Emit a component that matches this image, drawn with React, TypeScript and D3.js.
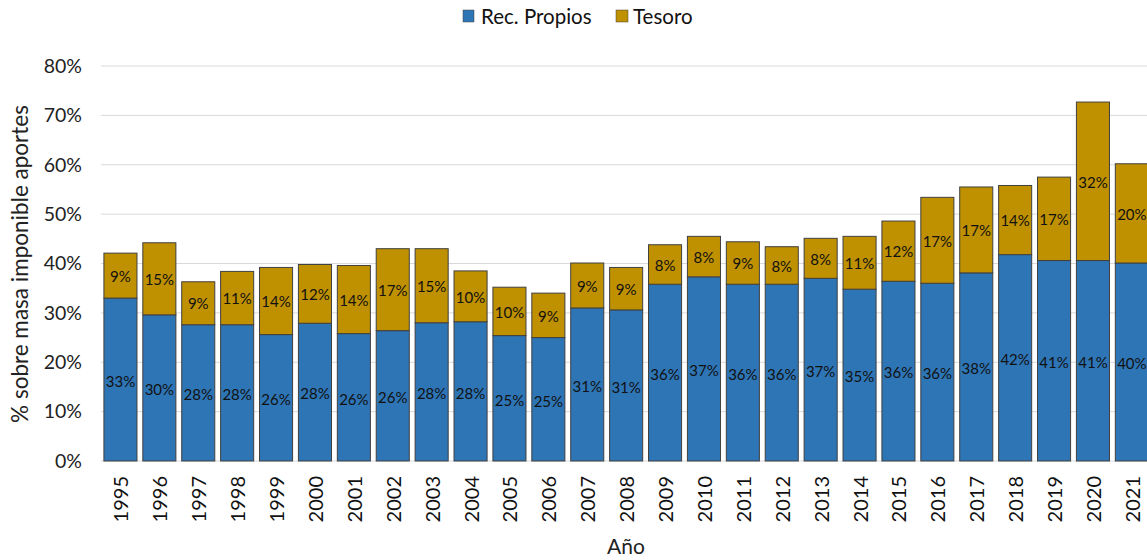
import React from "react";
import * as d3 from "d3";

const years = ["1995","1996","1997","1998","1999","2000","2001","2002","2003","2004","2005","2006","2007","2008","2009","2010","2011","2012","2013","2014","2015","2016","2017","2018","2019","2020","2021"];
const recPropios = [33.0,29.6,27.6,27.6,25.6,27.9,25.8,26.4,28.0,28.2,25.4,25.0,31.0,30.6,35.8,37.3,35.8,35.8,37.0,34.8,36.4,36.0,38.1,41.8,40.6,40.6,40.1];
const tesoro = [9.1,14.6,8.7,10.8,13.6,11.9,13.8,16.6,15.0,10.3,9.8,9.0,9.1,8.6,8.0,8.2,8.6,7.6,8.1,10.7,12.2,17.4,17.4,14.0,16.9,32.1,20.1];
const yTicks = [0,10,20,30,40,50,60,70,80];
const seriesNames = ["Rec. Propios","Tesoro"];
const colors = ["#2E75B6","#BF9000"];

const W = 1147, H = 560;
const left = 101, step = 38.9;
const font = "Lato, 'Open Sans', sans-serif";

export default function App() {
  const x = d3.scaleBand<string>().domain(years).range([left, left + step * years.length]).paddingInner(0.15).paddingOuter(0.075);
  const y = d3.scaleLinear().domain([0, 80]).range([461, 66]);
  const bw = x.bandwidth();
  return (
    <svg width={W} height={H} style={{ position: "absolute", left: 0, top: 0, background: "#fff" }} fontFamily={font}>
      {yTicks.map((t) => (
        <g key={t}>
          <line x1={left} x2={W} y1={y(t)} y2={y(t)} stroke="#D9D9D9" strokeWidth={1} />
          <text x={82} y={y(t)} dy="0.35em" textAnchor="end" fontSize={19.5} fill="#222">{t}%</text>
        </g>
      ))}
      {years.map((yr, i) => {
        const x0 = x(yr)!;
        const b = recPropios[i], t = tesoro[i];
        const cx = x0 + bw / 2;
        return (
          <g key={yr}>
            <rect x={x0} y={y(b)} width={bw} height={y(0) - y(b)} fill={colors[0]} stroke="#404040" strokeWidth={1} />
            <rect x={x0} y={y(b + t)} width={bw} height={y(b) - y(b + t)} fill={colors[1]} stroke="#404040" strokeWidth={1} />
            <text x={cx} y={(y(0) + y(b)) / 2 + 2} dy="0.35em" textAnchor="middle" fontSize={15} fill="#111">{Math.round(b)}%</text>
            <text x={cx} y={(y(b) + y(b + t)) / 2 + 1} dy="0.35em" textAnchor="middle" fontSize={15} fill="#111">{Math.round(t)}%</text>
            <text transform={`translate(${cx + 1},${476}) rotate(-90)`} dy="0.35em" textAnchor="end" fontSize={20} fill="#111">{yr}</text>
          </g>
        );
      })}
      <text transform={`translate(20,${264}) rotate(-90)`} dy="0.35em" textAnchor="middle" fontSize={22.5} fill="#222">% sobre masa imponible aportes</text>
      <text x={626} y={547} dy="0.35em" textAnchor="middle" fontSize={21} fill="#222">Año</text>
      <g>
        <rect x={463} y={10} width={11} height={12} fill={colors[0]} stroke="#404040" strokeWidth={0.5} />
        <text x={481} y={17} dy="0.35em" fontSize={20.5} fill="#111">{seriesNames[0]}</text>
        <rect x={616} y={10} width={12} height={12} fill={colors[1]} stroke="#404040" strokeWidth={0.5} />
        <text x={633} y={17} dy="0.35em" fontSize={20.5} fill="#111">{seriesNames[1]}</text>
      </g>
    </svg>
  );
}
